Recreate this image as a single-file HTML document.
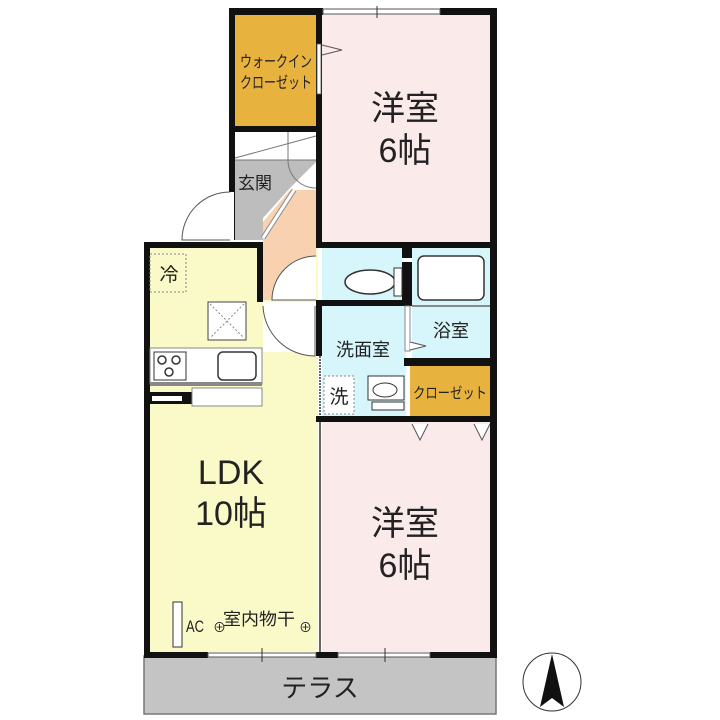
<!DOCTYPE html>
<html><head><meta charset="utf-8"><style>
html,body{margin:0;padding:0;background:#fff;width:720px;height:720px;overflow:hidden}
svg{display:block}
text{font-family:"Liberation Sans","Noto Sans CJK JP",sans-serif;fill:#222}
</style></head><body>
<svg width="720" height="720" viewBox="0 0 720 720" xmlns="http://www.w3.org/2000/svg">
<rect x="144" y="656" width="352" height="58" fill="#c4c4c4" stroke="#777" stroke-width="1.5"/>
<text x="320" y="697" font-size="26" text-anchor="middle">テラス</text>
<rect x="150" y="248" width="168" height="404" fill="#fafac8"/>
<rect x="322" y="14" width="168" height="228" fill="#fbeaea"/>
<rect x="322" y="422" width="168" height="230" fill="#fbeaea"/>
<rect x="235" y="14" width="81" height="112" fill="#e8b23e"/>
<rect x="235" y="132" width="81" height="108" fill="#fff"/>
<polygon points="235,160 316,160 316,162 290,188 263,218 263,240 235,240" fill="#bdbdbd"/>
<polygon points="290,190 316,190 316,300 263,300 263,222" fill="#f8d2b0"/>
<rect x="322" y="248" width="80" height="52" fill="#d6f6fb"/>
<rect x="412" y="248" width="78" height="110" fill="#d6f6fb"/>
<rect x="322" y="306" width="84" height="110" fill="#d6f6fb"/>
<rect x="410" y="366" width="80" height="50" fill="#e8b23e"/>
<rect x="263" y="302" width="53" height="50" fill="#fff"/>
<g fill="#111">
<rect x="229" y="8" width="94" height="7"/>
<rect x="440" y="8" width="57" height="7"/>
<rect x="490" y="8" width="7" height="650"/>
<rect x="229" y="8" width="6" height="232"/>
<rect x="316" y="14" width="6" height="232"/>
<rect x="235" y="126" width="81" height="6"/>
<rect x="144" y="242" width="6" height="416"/>
<rect x="144" y="242" width="119" height="6"/>
<rect x="257" y="242" width="6" height="60"/>
<rect x="316" y="242" width="181" height="6"/>
<rect x="402" y="248" width="10" height="10"/>
<rect x="402" y="262" width="10" height="44"/>
<rect x="316" y="300" width="96" height="6"/>
<rect x="316" y="306" width="6" height="50"/>
<rect x="404" y="358" width="86" height="8"/>
<rect x="316" y="416" width="174" height="6"/>
<rect x="144" y="652" width="64" height="6"/>
<rect x="316" y="652" width="22" height="6"/>
<rect x="430" y="652" width="67" height="6"/>
<rect x="150" y="392" width="42" height="12"/>
</g>
<line x1="320" y1="422" x2="320" y2="652" stroke="#666" stroke-width="2"/>
<line x1="320" y1="356" x2="320" y2="416" stroke="#666" stroke-width="2" stroke-dasharray="2,1"/>
<rect x="323" y="9" width="117" height="5" fill="#fff" stroke="#555"/>
<line x1="377" y1="6" x2="377" y2="18" stroke="#333"/>
<rect x="208" y="653" width="108" height="4" fill="#fff" stroke="#555"/>
<rect x="338" y="653" width="92" height="4" fill="#fff" stroke="#555"/>
<line x1="262" y1="648" x2="262" y2="662" stroke="#333"/><line x1="385" y1="648" x2="385" y2="662" stroke="#333"/>
<rect x="317" y="44" width="4" height="50" fill="#fff" stroke="#555" stroke-width=".8"/>
<polyline points="322,45 342,50 322,55" fill="none" stroke="#555"/>
<rect x="230" y="192" width="4" height="48" fill="#fff"/>
<path d="M230,192 A48,48 0 0,0 182,240 L230,240" fill="#fff" stroke="#555"/>
<line x1="235" y1="160" x2="316" y2="160" stroke="#777"/>
<line x1="235" y1="158" x2="316" y2="136" stroke="#777"/>
<line x1="288" y1="132" x2="288" y2="160" stroke="#777"/>
<path d="M288,160 A28,28 0 0,0 316,188" fill="none" stroke="#777"/>
<line x1="263" y1="238" x2="294" y2="190" stroke="#888" stroke-width="5"/>
<line x1="263" y1="238" x2="294" y2="190" stroke="#fff" stroke-width="3"/>
<text x="238" y="189" font-size="17">玄関</text>
<path d="M316,256 A44,44 0 0,0 272,300 L316,300" fill="#fff" stroke="#555"/>
<path d="M263,306 A52,52 0 0,0 315,356 L315,306" fill="#fff" stroke="#555"/>
<ellipse cx="370" cy="282" rx="25" ry="12" fill="#fff" stroke="#333" stroke-width="1.5"/>
<rect x="394" y="268" width="8" height="28" fill="#fff" stroke="#333"/>
<rect x="418" y="256" width="66" height="44" rx="6" fill="#fff" stroke="#333" stroke-width="1.5"/>
<rect x="412" y="305" width="78" height="2" fill="#888"/>
<text x="451" y="337" font-size="18" text-anchor="middle">浴室</text>
<rect x="405" y="306" width="5" height="45" fill="#fff" stroke="#888"/>
<polyline points="410,342 426,346 410,350" fill="#fff" stroke="#555"/>
<text x="363" y="356" font-size="18" text-anchor="middle">洗面室</text>
<rect x="324" y="376" width="30" height="38" fill="#fff" stroke="#888" stroke-dasharray="2,2"/>
<text x="339" y="403" font-size="19" text-anchor="middle">洗</text>
<rect x="368" y="376" width="36" height="24" fill="#fff" stroke="#333"/>
<ellipse cx="385" cy="390" rx="12" ry="7" fill="#fff" stroke="#333"/>
<rect x="372" y="402" width="32" height="8" fill="#fff" stroke="#333"/>
<text x="413" y="398" font-size="15" textLength="74" lengthAdjust="spacingAndGlyphs">クローゼット</text>
<polyline points="412,424 420,440 428,424" fill="#fff" stroke="#555"/>
<polyline points="474,424 482,440 490,424" fill="#fff" stroke="#555"/>
<text x="240" y="67" font-size="16" textLength="72" lengthAdjust="spacingAndGlyphs">ウォークイン</text>
<text x="240" y="88" font-size="16" textLength="72" lengthAdjust="spacingAndGlyphs">クローゼット</text>
<text x="405" y="120" font-size="34" text-anchor="middle">洋室</text>
<text x="405" y="162" font-size="34" text-anchor="middle">6帖</text>
<text x="405" y="535" font-size="34" text-anchor="middle">洋室</text>
<text x="405" y="577" font-size="34" text-anchor="middle">6帖</text>
<text x="231" y="484" font-size="34" text-anchor="middle">LDK</text>
<text x="231" y="525" font-size="34" text-anchor="middle">10帖</text>
<rect x="150" y="254" width="36" height="38" fill="none" stroke="#888" stroke-dasharray="2,2"/>
<text x="169" y="281" font-size="19" text-anchor="middle">冷</text>
<rect x="208" y="302" width="38" height="38" fill="#fff" stroke="#444"/>
<path d="M210,304 L244,338 M244,304 L210,338" stroke="#888" stroke-dasharray="2,2"/>
<rect x="150" y="348" width="112" height="36" fill="#fff" stroke="#888"/>
<rect x="150" y="382" width="112" height="4" fill="#888"/>
<rect x="154" y="352" width="32" height="28" fill="#fff" stroke="#333"/>
<circle cx="162" cy="360" r="4" fill="none" stroke="#333" stroke-width="1.5"/><circle cx="176" cy="360" r="4" fill="none" stroke="#333" stroke-width="1.5"/><circle cx="169" cy="372" r="4" fill="none" stroke="#333" stroke-width="1.5"/>
<rect x="218" y="352" width="38" height="28" rx="5" fill="#fff" stroke="#333" stroke-width="1.5"/>
<rect x="192" y="388" width="70" height="18" fill="#fff" stroke="#888"/>
<rect x="152" y="396" width="30" height="5" fill="#fff"/>
<rect x="173" y="602" width="9" height="45" fill="#fff" stroke="#333"/>
<text x="186" y="632" font-size="17" textLength="18" lengthAdjust="spacingAndGlyphs">AC</text>
<text x="213" y="632" font-size="13">⊕</text>
<text x="223" y="625" font-size="17" textLength="72" lengthAdjust="spacingAndGlyphs">室内物干</text>
<text x="299" y="632" font-size="13">⊕</text>
<circle cx="552" cy="682" r="29" fill="#fff" stroke="#333"/>
<polygon points="552,654 540,707 552,698 564,707" fill="#111"/>
</svg>
</body></html>
